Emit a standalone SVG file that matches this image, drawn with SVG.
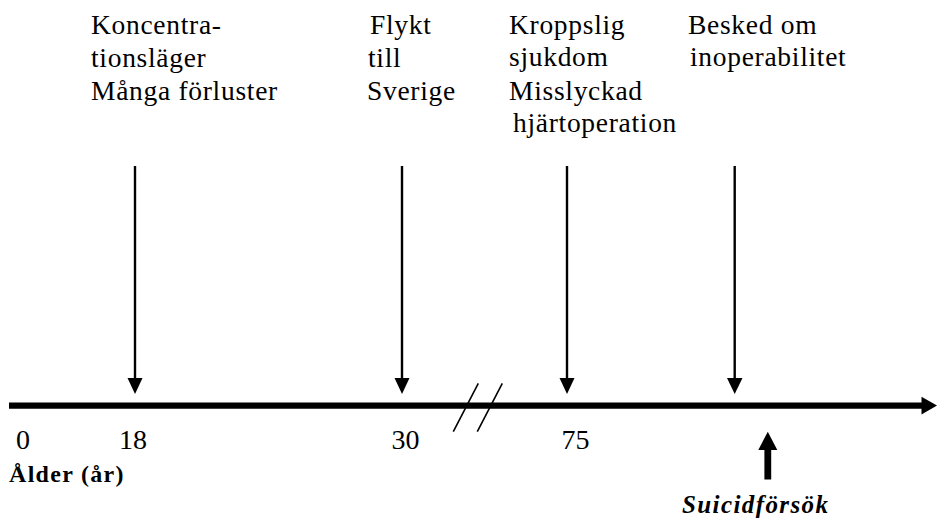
<svg xmlns="http://www.w3.org/2000/svg" width="937" height="519" viewBox="0 0 937 519">
  <style>
    .lbl { font-family: "Liberation Serif", "Times New Roman", serif; font-size: 27.5px; letter-spacing: 0.7px; fill: #000; }
    .num { font-family: "Liberation Serif", "Times New Roman", serif; font-size: 28px; fill: #000; }
    .axis-title { font-family: "Liberation Serif", "Times New Roman", serif; font-size: 24px; font-weight: bold; letter-spacing: 1.3px; fill: #000; }
    .attempt { font-family: "Liberation Serif", "Times New Roman", serif; font-size: 25px; font-weight: bold; font-style: italic; letter-spacing: 1.4px; fill: #000; }
    .event { stroke: #000; stroke-width: 2.4; fill: none; }
    .head { fill: #000; stroke: none; }
  </style>
  <rect width="937" height="519" fill="#fff"/>

  <!-- event labels -->
  <g id="event-camp">
    <text class="lbl" x="91" y="34">Koncentra-</text>
    <text class="lbl" x="91" y="67">tionsläger</text>
    <text class="lbl" x="91" y="100">Många förluster</text>
  </g>
  <g id="event-flight">
    <text class="lbl" x="370" y="34">Flykt</text>
    <text class="lbl" x="368" y="67">till</text>
    <text class="lbl" x="367" y="100">Sverige</text>
  </g>
  <g id="event-illness">
    <text class="lbl" x="509" y="34">Kroppslig</text>
    <text class="lbl" x="509" y="66">sjukdom</text>
    <text class="lbl" x="509" y="100">Misslyckad</text>
    <text class="lbl" x="513" y="132">hjärtoperation</text>
  </g>
  <g id="event-inoperable">
    <text class="lbl" x="688" y="34">Besked om</text>
    <text class="lbl" x="690" y="66">inoperabilitet</text>
  </g>

  <!-- connectors: event arrows pointing down onto the time axis -->
  <g id="connectors">
    <line class="event" x1="135" y1="166" x2="135" y2="380"/>
    <polygon class="head" points="127.5,378 142.5,378 135,394"/>
    <line class="event" x1="402" y1="166" x2="402" y2="380"/>
    <polygon class="head" points="394.5,378 409.5,378 402,394"/>
    <line class="event" x1="567" y1="166" x2="567" y2="380"/>
    <polygon class="head" points="559.5,378 574.5,378 567,394"/>
    <line class="event" x1="734.7" y1="166" x2="734.7" y2="380"/>
    <polygon class="head" points="727,378 742.5,378 734.7,394"/>
  </g>

  <!-- time axis -->
  <g id="axis">
    <line x1="9" y1="405.6" x2="923" y2="405.6" stroke="#000" stroke-width="6.4"/>
    <polygon class="head" points="921.5,396.7 937,405.6 921.5,414.5"/>
    <!-- break marks -->
    <line x1="453.3" y1="431.7" x2="478.3" y2="383.3" stroke="#000" stroke-width="1.6"/>
    <line x1="477.3" y1="431.7" x2="502.3" y2="383.3" stroke="#000" stroke-width="1.6"/>
    <text class="num" x="16" y="449">0</text>
    <text class="num" x="119" y="449">18</text>
    <text class="num" x="391.5" y="449">30</text>
    <text class="num" x="561.5" y="449">75</text>
    <text class="axis-title" x="9" y="482">Ålder (år)</text>
  </g>

  <!-- suicide attempt marker -->
  <g id="suicide-attempt">
    <rect x="764.4" y="448" width="6.8" height="31.5" fill="#000"/>
    <polygon class="head" points="758.3,450 777.3,450 767.8,431.7"/>
    <text class="attempt" x="682" y="513">Suicidförsök</text>
  </g>
</svg>
